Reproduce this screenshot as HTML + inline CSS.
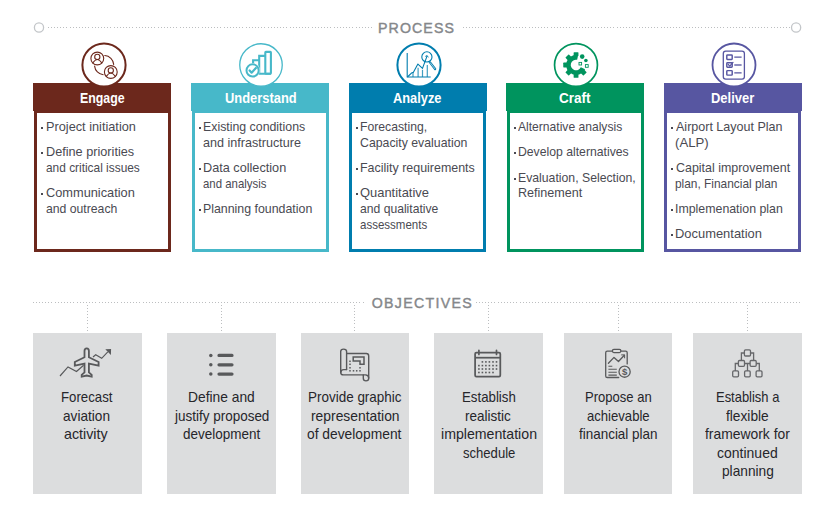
<!DOCTYPE html>
<html lang="en"><head><meta charset="utf-8"><title>Process and Objectives</title>
<style>
html,body{margin:0;padding:0;background:#fff}
body{width:830px;height:517px;overflow:hidden;position:relative;font-family:"Liberation Sans",sans-serif;color:#4a4a52}
.abs{position:absolute}
h2.title{position:absolute;margin:0;font-weight:normal;-webkit-text-stroke:0.4px #85878a;font-size:14.2px;line-height:16px;height:16px;color:#85878a;white-space:nowrap}
svg{position:absolute;overflow:visible}
.card{position:absolute;top:83px;width:138px;height:169px}
.card h3{position:absolute;left:0;top:0;width:138px;height:28px;margin:0;font-size:14.8px;line-height:28px;font-weight:bold;color:#fff}
.card h3 span{position:absolute;top:0;white-space:nowrap;transform-origin:0 50%}
.card .body{position:absolute;left:0;top:28px;width:132px;height:136px;border-style:solid;border-width:2px 3px 3px 3px;background:#fff}
.card ul{list-style:none;margin:0;padding:0}
.card li{margin:0;padding:0}
.card li .l{position:absolute;white-space:nowrap;font-size:12.4px;line-height:16px;height:16px;transform-origin:0 50%}
.card li i{position:absolute;width:2px;height:2px;background:#4a4a52}
.box{position:absolute;top:333px;height:161px;background:#dcddde}
.box p{margin:0}
.box .l{position:absolute;white-space:nowrap;font-size:14.6px;line-height:18px;height:18px;color:#26262b;transform-origin:0 50%}
</style></head><body>

<section class="process">
<h2 class="title" style="left:378.05px;top:20.00px;letter-spacing:1.083px">PROCESS</h2>
<svg width="830" height="60" style="left:0;top:0" viewBox="0 0 830 60" fill="none"><g stroke="#bcbec0" stroke-width="1" stroke-dasharray="1 2 1 2 1 2 1 2 1 2 1 2 1 3" shape-rendering="crispEdges"><path d="M48 27.5H373"/><path d="M463 27.5H791"/></g><circle cx="39" cy="27.5" r="4.6" stroke="#c3c6c9" stroke-width="1.3"/><circle cx="796.1" cy="27.5" r="4.6" stroke="#c3c6c9" stroke-width="1.3"/></svg>
<article class="card" style="left:33px">
<h3 style="background:#6c281c"><span style="left:47.00px;top:1.00px;transform:scaleX(0.8346)">Engage</span></h3>
<div class="body" style="border-color:#6c281c;left:1px;width:131px"><ul>
<li>
<i style="left:4px;top:14px"></i>
<span class="l" style="left:9.00px;top:6.00px;transform:scaleX(1.0274)">Project initiation</span>
</li>
<li>
<i style="left:4px;top:39px"></i>
<span class="l" style="left:9.00px;top:31.00px;transform:scaleX(1.0237)">Define priorities</span>
<span class="l" style="left:9.00px;top:47.00px;transform:scaleX(0.9592)">and critical issues</span>
</li>
<li>
<i style="left:4px;top:80px"></i>
<span class="l" style="left:9.00px;top:72.00px;transform:scaleX(1.0320)">Communication</span>
<span class="l" style="left:9.00px;top:88.00px;transform:scaleX(0.9859)">and outreach</span>
</li>
</ul></div>
<svg class="ico" width="60" height="60" viewBox="73.60 35.00 60 60" style="left:40.60px;top:-48.00px" fill="none" stroke="#6c281c" stroke-linecap="round" stroke-linejoin="round"><circle cx="103.6" cy="65.0" r="21.60" fill="#fff" stroke-width="2.0"/><g stroke-width="1.1"><circle cx="96.9" cy="58.5" r="6.4"/><circle cx="96.9" cy="56.9" r="2.6"/><path d="M92.4 62.9Q96.9 56.2 101.4 62.9"/><circle cx="110.4" cy="72" r="6.4"/><circle cx="110.4" cy="70.4" r="2.6"/><path d="M105.9 76.4Q110.4 69.7 114.9 76.4"/><path d="M104.4 55.5A9.6 9.6 0 0 1 113.3 64.4"/><path d="M94.2 66.1A9.6 9.6 0 0 0 102.8 74.7"/></g></svg>
</article>
<article class="card" style="left:191px">
<h3 style="background:#47b8c9"><span style="left:34.00px;top:1.00px;transform:scaleX(0.8723)">Understand</span></h3>
<div class="body" style="border-color:#47b8c9;left:1px;width:131px"><ul>
<li>
<i style="left:4px;top:14px"></i>
<span class="l" style="left:8.00px;top:6.00px;transform:scaleX(0.9956)">Existing conditions</span>
<span class="l" style="left:8.00px;top:22.00px;transform:scaleX(1.0152)">and infrastructure</span>
</li>
<li>
<i style="left:4px;top:55px"></i>
<span class="l" style="left:8.00px;top:47.00px;transform:scaleX(1.0239)">Data collection</span>
<span class="l" style="left:8.00px;top:63.00px;transform:scaleX(0.9206)">and analysis</span>
</li>
<li>
<i style="left:4px;top:96px"></i>
<span class="l" style="left:8.00px;top:88.00px;transform:scaleX(0.9977)">Planning foundation</span>
</li>
</ul></div>
<svg class="ico" width="60" height="60" viewBox="231.10 35.00 60 60" style="left:40.10px;top:-48.00px" fill="none" stroke="#47b8c9" stroke-linecap="round" stroke-linejoin="round"><circle cx="261.1" cy="65.0" r="21.25" fill="#fff" stroke-width="1.3"/><g stroke-width="2.1" stroke-linejoin="miter" stroke-linecap="butt"><rect x="265.4" y="51.9" width="5.6" height="21.8" rx="0.6"/><path d="M259.3 73.7V55.9H265.4M253.2 68V60.3H259.3M258.4 73.7H271"/><circle cx="252.7" cy="70.4" r="7.3" fill="#fff" stroke="none"/><circle cx="252.7" cy="70.4" r="6.1" fill="#fff" stroke-width="2"/><path d="M249.7 70.5L251.7 72.7L256 68" stroke-width="2.2" stroke-linecap="round" stroke-linejoin="round"/></g></svg>
</article>
<article class="card" style="left:349px">
<h3 style="background:#007dae"><span style="left:44.00px;top:1.00px;transform:scaleX(0.8673)">Analyze</span></h3>
<div class="body" style="border-color:#007dae;left:0px;width:131px"><ul>
<li>
<i style="left:4px;top:14px"></i>
<span class="l" style="left:8.00px;top:6.00px;transform:scaleX(0.9848)">Forecasting,</span>
<span class="l" style="left:8.00px;top:22.00px;transform:scaleX(0.9925)">Capacity evaluation</span>
</li>
<li>
<i style="left:4px;top:55px"></i>
<span class="l" style="left:8.00px;top:47.00px;transform:scaleX(1.0040)">Facility requirements</span>
</li>
<li>
<i style="left:4px;top:80px"></i>
<span class="l" style="left:8.00px;top:72.00px;transform:scaleX(1.0431)">Quantitative</span>
<span class="l" style="left:8.00px;top:88.00px;transform:scaleX(0.9803)">and qualitative</span>
<span class="l" style="left:8.00px;top:104.00px;transform:scaleX(0.9291)">assessments</span>
</li>
</ul></div>
<svg class="ico" width="60" height="60" viewBox="388.90 35.00 60 60" style="left:39.90px;top:-48.00px" fill="none" stroke="#007dae" stroke-linecap="round" stroke-linejoin="round"><circle cx="418.9" cy="65.0" r="21.60" fill="#fff" stroke-width="2.0"/><g stroke-width="1.1" stroke-linecap="butt"><path d="M407.1 52.9V77.2M406.6 77H430.6"/><path d="M412.9 73V77M418 67.8V77M422.4 69.7V77M427.2 65.1V77" stroke-width="1.2" opacity="0.75"/><path d="M407.3 77L411.9 72.7L413.2 72.4L417.8 64.1L422.4 68.4L427 55.9" stroke-linejoin="round"/><path d="M425.2 56.4L427.1 55.6L428.2 57.4" stroke-width="0.9"/><circle cx="426.8" cy="56.9" r="5.1"/><path d="M429.9 62.4L435 69" stroke-width="2.3" stroke-linecap="round"/><path d="M430.2 62.8L434.7 68.6" stroke="#fff" stroke-width="0.6" stroke-linecap="round"/></g></svg>
</article>
<article class="card" style="left:506px">
<h3 style="background:#00945e"><span style="left:53.00px;top:1.00px;transform:scaleX(0.9126)">Craft</span></h3>
<div class="body" style="border-color:#00945e;left:1px;width:131px"><ul>
<li>
<i style="left:4px;top:14px"></i>
<span class="l" style="left:8.00px;top:6.00px;transform:scaleX(0.9760)">Alternative analysis</span>
</li>
<li>
<i style="left:4px;top:39px"></i>
<span class="l" style="left:8.00px;top:31.00px;transform:scaleX(0.9860)">Develop alternatives</span>
</li>
<li>
<i style="left:4px;top:65px"></i>
<span class="l" style="left:8.00px;top:57.00px;transform:scaleX(0.9880)">Evaluation, Selection,</span>
<span class="l" style="left:8.00px;top:72.00px;transform:scaleX(1.0153)">Refinement</span>
</li>
</ul></div>
<svg class="ico" width="60" height="60" viewBox="546.40 35.00 60 60" style="left:40.40px;top:-48.00px" fill="none" stroke="#00945e" stroke-linecap="round" stroke-linejoin="round"><circle cx="576.4" cy="65.0" r="21.45" fill="#fff" stroke-width="1.7"/><g fill="#00945e" stroke="none"><path d="M585.51 69.23A10.0 10.0 0 1 1 578.53 55.22L577.55 59.82A5.3 5.3 0 1 0 581.25 67.24Z"/><rect x="585.45" y="62.60" width="3.80" height="4.8" rx="0.6" transform="rotate(45 576.45 65.0)"/><rect x="585.45" y="62.60" width="3.80" height="4.8" rx="0.6" transform="rotate(90 576.45 65.0)"/><rect x="585.45" y="62.60" width="3.80" height="4.8" rx="0.6" transform="rotate(135 576.45 65.0)"/><rect x="585.45" y="62.60" width="3.80" height="4.8" rx="0.6" transform="rotate(180 576.45 65.0)"/><rect x="585.45" y="62.60" width="3.80" height="4.8" rx="0.6" transform="rotate(225 576.45 65.0)"/><rect x="585.45" y="62.60" width="3.80" height="4.8" rx="0.6" transform="rotate(270 576.45 65.0)"/><circle cx="582.6" cy="56.6" r="2.3"/><circle cx="586.3" cy="60.5" r="1.8"/></g><g stroke-width="0.9" stroke-linejoin="miter"><rect x="579.4" y="62.4" width="2.6" height="2.6"/><rect x="585.8" y="64.6" width="2.8" height="2.7"/></g></svg>
</article>
<article class="card" style="left:664px">
<h3 style="background:#5756a1"><span style="left:47.00px;top:1.00px;transform:scaleX(0.8746)">Deliver</span></h3>
<div class="body" style="border-color:#5756a1;left:0px;width:131px"><ul>
<li>
<i style="left:4px;top:14px"></i>
<span class="l" style="left:9.00px;top:6.00px;transform:scaleX(1.0105)">Airport Layout Plan</span>
<span class="l" style="left:8.00px;top:22.00px;transform:scaleX(1.0645)">(ALP)</span>
</li>
<li>
<i style="left:4px;top:55px"></i>
<span class="l" style="left:9.00px;top:47.00px;transform:scaleX(1.0040)">Capital improvement</span>
<span class="l" style="left:8.00px;top:63.00px;transform:scaleX(0.9596)">plan, Financial plan</span>
</li>
<li>
<i style="left:4px;top:96px"></i>
<span class="l" style="left:8.00px;top:88.00px;transform:scaleX(0.9972)">Implemenation plan</span>
</li>
<li>
<i style="left:4px;top:121px"></i>
<span class="l" style="left:8.00px;top:113.00px;transform:scaleX(1.0429)">Documentation</span>
</li>
</ul></div>
<svg class="ico" width="60" height="60" viewBox="704.10 35.00 60 60" style="left:40.10px;top:-48.00px" fill="none" stroke="#5756a1" stroke-linecap="round" stroke-linejoin="round"><circle cx="734.1" cy="65.0" r="21.50" fill="#fff" stroke-width="1.8"/><g stroke-width="1.1" stroke-linecap="butt"><rect x="723.4" y="51.1" width="21.1" height="28" rx="2.4" stroke-width="1.3"/><g stroke-width="1.45"><rect x="726.9" y="54.9" width="5.4" height="4.6" rx="0.7"/><rect x="726.9" y="62.7" width="5.4" height="4.5" rx="0.7"/><rect x="726.9" y="70.6" width="5.4" height="4.5" rx="0.7"/></g><path d="M734.4 57.2H741.7M734.4 72.8H741.7" stroke-width="1.3"/><path d="M734.4 65H741.7" stroke-width="1.7" opacity="0.8"/><path d="M728.3 64.4L729.9 66.1L733.1 62.4" stroke-width="1.3" stroke-linecap="round"/></g></svg>
</article>
</section>
<section class="objectives">
<h2 class="title" style="left:371.65px;top:295.00px;letter-spacing:1.306px">OBJECTIVES</h2>
<svg width="830" height="40" style="left:0;top:295px" viewBox="0 295 830 40" fill="none"><g stroke="#bcbec0" stroke-width="1" stroke-dasharray="1 2 1 2 1 2 1 2 1 2 1 2 1 3" shape-rendering="crispEdges"><path d="M33 302.5H366"/><path d="M476 302.5H802"/><path d="M87.5 305V333"/><path d="M221.5 305V333"/><path d="M354.5 305V333"/><path d="M488.5 305V333"/><path d="M618.5 305V333"/><path d="M747.5 305V333"/></g></svg>
<div class="box" style="left:33px;width:109px">
<svg class="oico" width="70" height="48" viewBox="52 340 70 48" style="left:19px;top:7px" fill="none" stroke="#58595b" stroke-linecap="round" stroke-linejoin="round"><path d="M60 376L68 366.9L76.5 371.5L83.6 365.3M93 357L95.7 354.7L101.7 358.3L107.8 351.9" stroke-width="1.15" stroke-linejoin="miter" stroke-linecap="butt"/><path d="M111.1 349L105.3 349.2L110.9 354.9Z" fill="#58595b" stroke="none"/><path d="M86.7 348.3C88.2 348.3 88.9 349.6 88.9 351V357.3L98.6 362V365.7L88.9 363.6V372.3L91.7 374.8V376.6L86.7 375.5L81.7 376.6V374.8L84.5 372.3V363.6L74.8 365.7V362L84.5 357.3V351C84.5 349.6 85.2 348.3 86.7 348.3Z" stroke-width="1.8" stroke-linejoin="miter"/></svg>
<p>
<span class="l" style="left:28.00px;top:55.00px;transform:scaleX(0.9063)">Forecast</span>
<span class="l" style="left:30.00px;top:74.00px;transform:scaleX(0.9340)">aviation</span>
<span class="l" style="left:31.00px;top:92.00px;transform:scaleX(0.9783)">activity</span>
</p></div>
<div class="box" style="left:167px;width:109px">
<svg class="oico" width="70" height="48" viewBox="186 340 70 48" style="left:19px;top:7px" fill="none" stroke="#58595b" stroke-linecap="round" stroke-linejoin="round"><g fill="#58595b" stroke="none"><circle cx="210.8" cy="355.4" r="1.75"/><circle cx="210.8" cy="364.8" r="1.75"/><circle cx="210.8" cy="374.1" r="1.75"/></g><path d="M219 355.4H232M219 364.8H232M219 374.1H232" stroke-width="3.2"/></svg>
<p>
<span class="l" style="left:21.00px;top:55.00px;transform:scaleX(0.9460)">Define and</span>
<span class="l" style="left:8.00px;top:74.00px;transform:scaleX(0.9232)">justify proposed</span>
<span class="l" style="left:16.00px;top:92.00px;transform:scaleX(0.9241)">development</span>
</p></div>
<div class="box" style="left:301px;width:108px">
<svg class="oico" width="70" height="48" viewBox="320 340 70 48" style="left:19px;top:7px" fill="none" stroke="#58595b" stroke-linecap="round" stroke-linejoin="round"><g stroke-width="1.4"><path d="M346.6 353.5H366.3Q368.7 353.5 368.7 356V378.3Q368.7 380.9 366 380.9Q363.3 380.9 363.3 378.3V374.9H343.3Q340.7 374.9 340.7 372.2V351.6Q340.7 349.1 343.6 349.1Q346.6 349.1 346.6 351.6V369.6"/><path d="M340.9 372.2Q341 369.6 343.7 369.6H346.6" /><path d="M363.3 374.9H365.5Q368.5 375 368.7 378"/><path d="M353.2 357.1H364V364.3H360V361.1H353.2Z" stroke-linejoin="miter" stroke-width="1.5"/></g><g fill="#58595b" stroke="none"><rect x="349.25" y="360.55" width="1.5" height="1.5"/><rect x="349.25" y="363.55" width="1.5" height="1.5"/><rect x="349.25" y="367.05" width="1.5" height="1.5"/><rect x="349.25" y="370.05" width="1.5" height="1.5"/><rect x="352.75" y="370.05" width="1.5" height="1.5"/><rect x="355.95" y="370.05" width="1.5" height="1.5"/><rect x="359.25" y="370.05" width="1.5" height="1.5"/><rect x="359.25" y="367.05" width="1.5" height="1.5"/></g></svg>
<p>
<span class="l" style="left:7.00px;top:55.00px;transform:scaleX(0.9223)">Provide graphic</span>
<span class="l" style="left:10.00px;top:74.00px;transform:scaleX(0.9490)">representation</span>
<span class="l" style="left:6.00px;top:92.00px;transform:scaleX(0.9461)">of development</span>
</p></div>
<div class="box" style="left:434px;width:109px">
<svg class="oico" width="70" height="48" viewBox="453 340 70 48" style="left:19px;top:7px" fill="none" stroke="#58595b" stroke-linecap="round" stroke-linejoin="round"><g stroke-width="1.75"><rect x="475.1" y="352.6" width="25.2" height="23.9" rx="1.3"/><path d="M475.1 357.7H500.3" stroke-linecap="butt"/><path d="M478.9 350.3V354.4M496.5 350.3V354.4" stroke-width="1.7"/></g><g fill="#58595b" stroke="none"><rect x="481.60" y="361.10" width="1.6" height="1.6"/><rect x="485.10" y="361.10" width="1.6" height="1.6"/><rect x="488.60" y="361.10" width="1.6" height="1.6"/><rect x="492.20" y="361.10" width="1.6" height="1.6"/><rect x="495.70" y="361.10" width="1.6" height="1.6"/><rect x="478.10" y="364.80" width="1.6" height="1.6"/><rect x="481.60" y="364.80" width="1.6" height="1.6"/><rect x="485.10" y="364.80" width="1.6" height="1.6"/><rect x="488.60" y="364.80" width="1.6" height="1.6"/><rect x="492.20" y="364.80" width="1.6" height="1.6"/><rect x="495.70" y="364.80" width="1.6" height="1.6"/><rect x="478.10" y="368.20" width="1.6" height="1.6"/><rect x="481.60" y="368.20" width="1.6" height="1.6"/><rect x="485.10" y="368.20" width="1.6" height="1.6"/><rect x="488.60" y="368.20" width="1.6" height="1.6"/><rect x="492.20" y="368.20" width="1.6" height="1.6"/><rect x="495.70" y="368.20" width="1.6" height="1.6"/><rect x="478.10" y="371.70" width="1.6" height="1.6"/><rect x="481.60" y="371.70" width="1.6" height="1.6"/><rect x="485.10" y="371.70" width="1.6" height="1.6"/><rect x="488.60" y="371.70" width="1.6" height="1.6"/><rect x="492.20" y="371.70" width="1.6" height="1.6"/></g></svg>
<p>
<span class="l" style="left:28.00px;top:55.00px;transform:scaleX(0.9088)">Establish</span>
<span class="l" style="left:31.00px;top:74.00px;transform:scaleX(0.9250)">realistic</span>
<span class="l" style="left:7.00px;top:92.00px;transform:scaleX(0.9701)">implementation</span>
<span class="l" style="left:29.00px;top:111.00px;transform:scaleX(0.8961)">schedule</span>
</p></div>
<div class="box" style="left:564px;width:108px">
<svg class="oico" width="70" height="48" viewBox="583 340 70 48" style="left:19px;top:7px" fill="none" stroke="#58595b" stroke-linecap="round" stroke-linejoin="round"><g stroke-width="1.3"><path d="M612.4 351.1H607.3Q605.7 351.1 605.7 352.8V375.9Q605.7 377.5 607.3 377.5H618.7M620.9 351.1H625.6Q627.2 351.1 627.2 352.8V363.9"/><rect x="612.4" y="349.4" width="8.5" height="3.2" rx="1.5"/><path d="M608.4 363.2L614 357.4L618.5 361.5L624.3 355.3"/><path d="M621.6 354.9L624.6 354.9L624.6 357.9" stroke-width="1"/><path d="M608.4 366.2H612.3M608.4 369.2H616.8M608.4 372.2H616.8M608.4 375.1H616.8" stroke-linecap="butt" stroke-width="1.1"/><circle cx="624.6" cy="371.65" r="5.6"/></g><text x="624.6" y="375.1" text-anchor="middle" font-family="Liberation Sans, sans-serif" font-size="9.6" font-weight="bold" fill="#58595b" stroke="none">$</text></svg>
<p>
<span class="l" style="left:21.00px;top:55.00px;transform:scaleX(0.8938)">Propose an</span>
<span class="l" style="left:23.00px;top:74.00px;transform:scaleX(0.8978)">achievable</span>
<span class="l" style="left:15.00px;top:92.00px;transform:scaleX(0.9214)">financial plan</span>
</p></div>
<div class="box" style="left:693px;width:109px">
<svg class="oico" width="70" height="48" viewBox="712 340 70 48" style="left:19px;top:7px" fill="none" stroke="#58595b" stroke-linecap="round" stroke-linejoin="round"><g stroke-width="1.3" stroke="#66676a"><rect x="744.4" y="349.9" width="6.10" height="6.10" rx="1.1"/><rect x="738.4" y="360.5" width="6.10" height="5.80" rx="1.1"/><rect x="750.1" y="360.5" width="6.10" height="5.80" rx="1.1"/><rect x="732.7" y="370.9" width="5.80" height="5.90" rx="1.1"/><rect x="744.6" y="370.9" width="5.60" height="5.90" rx="1.1"/><rect x="756.1" y="370.9" width="5.90" height="5.90" rx="1.1"/><path d="M744.4 353H741.4V360.5M750.5 353H753.6V360.5M738.4 363.5H735.3V370.9M744.5 363.5H750.1M747.5 363.5V370.9M756.2 363.5H759.3V370.9" stroke-linecap="butt" stroke-linejoin="miter"/></g></svg>
<p>
<span class="l" style="left:23.00px;top:55.00px;transform:scaleX(0.8871)">Establish a</span>
<span class="l" style="left:33.00px;top:74.00px;transform:scaleX(0.9393)">flexible</span>
<span class="l" style="left:12.00px;top:92.00px;transform:scaleX(0.9510)">framework for</span>
<span class="l" style="left:24.00px;top:111.00px;transform:scaleX(0.9593)">continued</span>
<span class="l" style="left:29.00px;top:129.00px;transform:scaleX(0.9390)">planning</span>
</p></div>
</section>
</body></html>
